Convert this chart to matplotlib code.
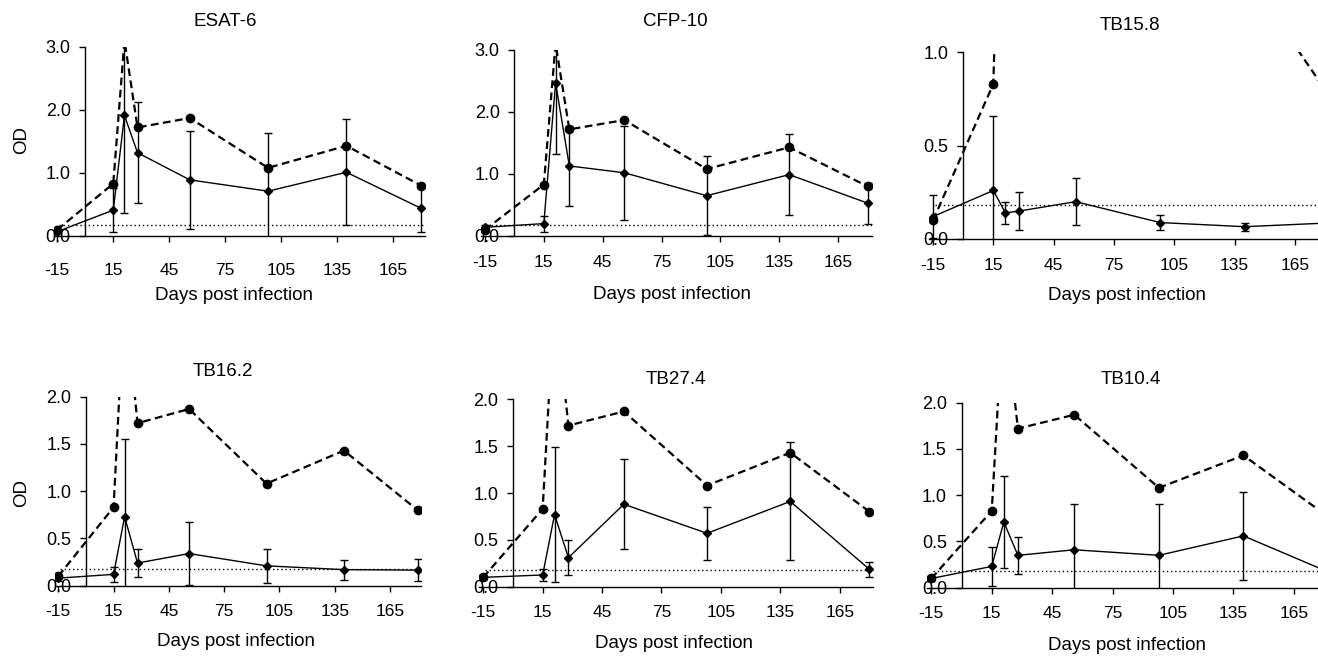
import matplotlib
matplotlib.use('Agg')
import matplotlib.pyplot as plt
from matplotlib.ticker import FormatStrFormatter

plt.rcParams['font.family'] = ['Liberation Sans', 'DejaVu Sans']
plt.rcParams['axes.unicode_minus'] = False

# ---------------- data ----------------
days = [-15, 15, 21, 28, 56, 98, 140, 180]
control = [0.10, 0.83, 3.10, 1.72, 1.87, 1.08, 1.43, 0.80]
cutoff = 0.18

titles = ["ESAT-6", "CFP-10", "TB15.8", "TB16.2", "TB27.4", "TB10.4"]

esat6_mean = [0.07, 0.41, 1.91, 1.32, 0.89, 0.71, 1.01, 0.44]
esat6_err = [0.03, 0.35, 1.55, 0.80, 0.78, 0.93, 0.84, 0.37]

cfp10_mean = [0.14, 0.20, 2.47, 1.13, 1.02, 0.65, 0.99, 0.53]
cfp10_err = [0.03, 0.13, 1.14, 0.65, 0.76, 0.64, 0.65, 0.33]

tb158_mean = [0.12, 0.26, 0.14, 0.15, 0.20, 0.088, 0.066, 0.085]
tb158_err = [0.115, 0.40, 0.06, 0.10, 0.125, 0.04, 0.022, 0.02]

tb162_mean = [0.08, 0.12, 0.73, 0.24, 0.34, 0.21, 0.17, 0.165]
tb162_err = [0.03, 0.08, 0.82, 0.15, 0.33, 0.18, 0.105, 0.12]

tb274_mean = [0.10, 0.125, 0.77, 0.31, 0.88, 0.57, 0.91, 0.185]
tb274_err = [0.03, 0.065, 0.72, 0.19, 0.48, 0.28, 0.63, 0.08]

tb104_mean = [0.10, 0.23, 0.71, 0.35, 0.41, 0.35, 0.56, 0.19]
tb104_err = [0.03, 0.21, 0.50, 0.20, 0.50, 0.55, 0.48, 0.05]

means = [esat6_mean, cfp10_mean, tb158_mean, tb162_mean, tb274_mean, tb104_mean]
errs = [esat6_err, cfp10_err, tb158_err, tb162_err, tb274_err, tb104_err]

y_tops = [3.0, 3.0, 1.0, 2.0, 2.0, 2.0]
y_steps = [1.0, 1.0, 0.5, 0.5, 0.5, 0.5]
x_ticks = [-15, 15, 45, 75, 105, 135, 165]

# ---------------- layout (pixels) ----------------
W, H = 1318, 656
# (left, right, top, bottom) of the axes box in pixels
boxes = [
    (53.6, 424.7, 46.7, 236.0),
    (481.0, 871.6, 50.0, 236.0),
    (929.0, 1329.0, 52.3, 239.0),
    (54.6, 421.3, 396.7, 585.7),
    (479.3, 873.4, 399.3, 586.7),
    (927.3, 1328.0, 402.7, 587.7),
]
title_pos = [(225, 22), (675, 22), (1130, 25), (223, 372), (676, 379), (1131, 379)]
xlabel_pos = [(234, 296), (672, 294), (1127, 296), (236, 642), (674, 643), (1127, 645)]
xtick_pad = [15.5, 9.5, 9.5, 9.5, 9.5, 9.5]
ylabel_pos = [(22, 140), (22, 493)]

fig = plt.figure(figsize=(W / 100, H / 100), dpi=100)
fig.patch.set_facecolor('white')

for i in range(6):
    l, r, t, b = boxes[i]
    ax = fig.add_axes([l / W, 1 - b / H, (r - l) / W, (b - t) / H])
    ax.set_xlim(-17, 182)
    ax.set_ylim(0, y_tops[i])

    # cutoff line
    ax.plot([-14, 182], [cutoff, cutoff], color='black', lw=1.0,
            linestyle=(0, (1, 2)))
    # control (dashed) series
    ax.plot(days, control, color='black', lw=1.6, linestyle=(0, (3.5, 2)),
            marker='o', markersize=6, markerfacecolor='black',
            markeredgecolor='black', zorder=3)
    # antigen series with error bars
    ax.errorbar(days, means[i], yerr=errs[i], color='black', lw=1.0,
                marker='D', markersize=3.8, elinewidth=1.0, capsize=3,
                capthick=1.0, zorder=4)

    for s in ['top', 'right']:
        ax.spines[s].set_visible(False)
    ax.spines['left'].set_position(('data', 0))
    ax.spines['left'].set_linewidth(1.0)
    ax.spines['bottom'].set_linewidth(1.0)

    ax.set_xticks(x_ticks)
    nsteps = int(round(y_tops[i] / y_steps[i]))
    ax.set_yticks([k * y_steps[i] for k in range(nsteps + 1)])
    ax.yaxis.set_major_formatter(FormatStrFormatter('%.1f'))
    ax.tick_params(axis='x', direction='out', length=4, width=1,
                   labelsize=12.5, pad=xtick_pad[i])
    ax.tick_params(axis='y', direction='out', length=4, width=1,
                   labelsize=13, pad=6.5)
    ax.set_facecolor('none')

    tx, ty = title_pos[i]
    fig.text(tx / W, 1 - ty / H, titles[i], ha='center', va='center',
             fontsize=13.5)
    xx, xy = xlabel_pos[i]
    fig.text(xx / W, 1 - xy / H, "Days post infection", ha='center',
             va='center', fontsize=13.5)

for (px, py) in ylabel_pos:
    fig.text(px / W, 1 - py / H, "OD", ha='center', va='center',
             rotation=90, fontsize=13.5)

fig.savefig('out.png', dpi=100, facecolor='white')
